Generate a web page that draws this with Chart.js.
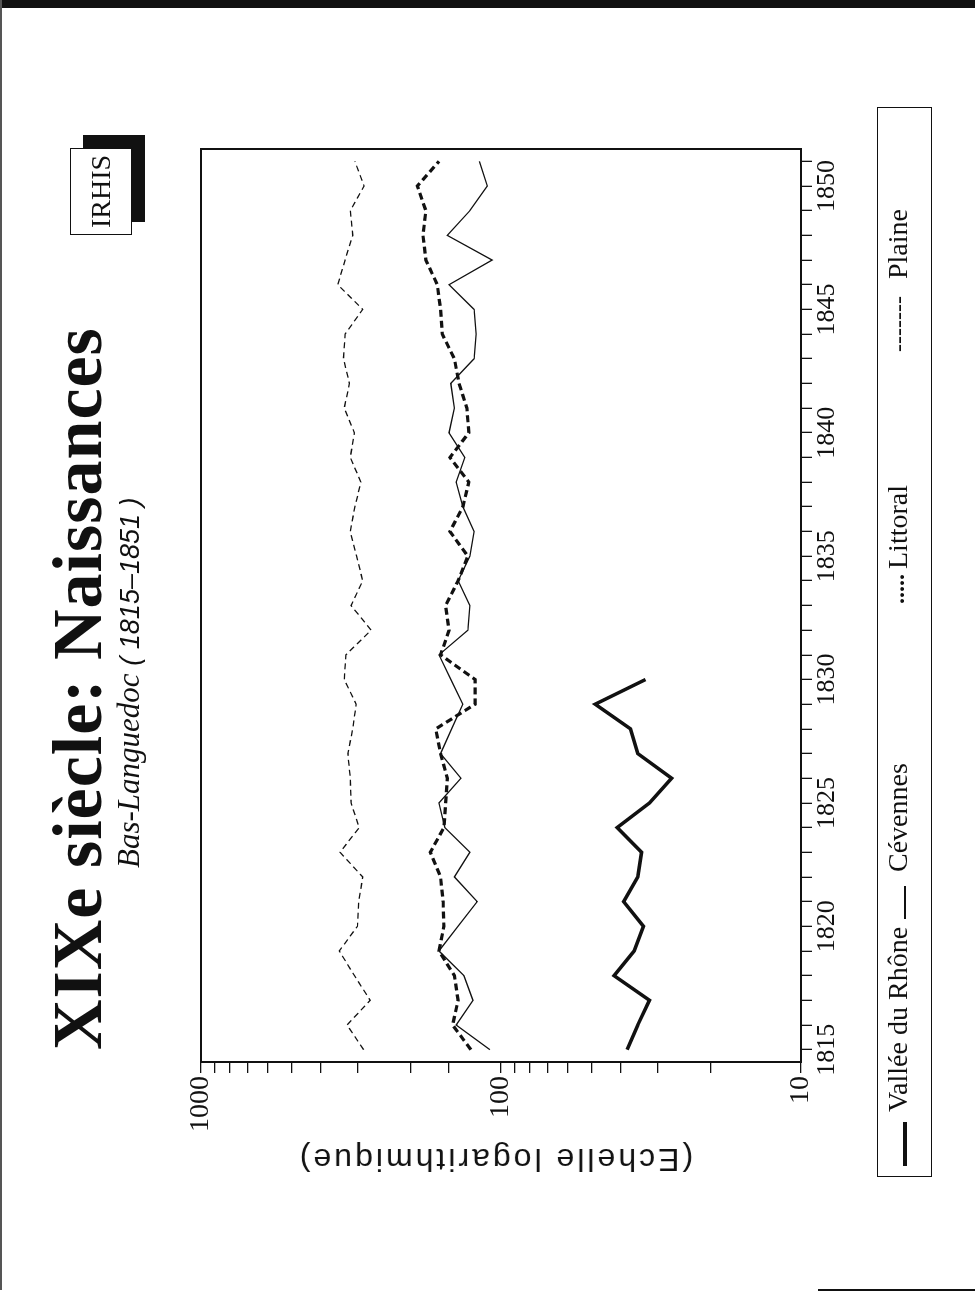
<!DOCTYPE html>
<html lang="fr">
<head>
<meta charset="utf-8">
<title>XIXe siècle : Naissances</title>
<script src="https://cdn.jsdelivr.net/npm/chart.js@4.4.1/dist/chart.umd.min.js"></script>
<style>
    html, body { margin: 0; padding: 0; background: #fff; }
    body { width: 975px; height: 1298px; position: relative; overflow: hidden; }
    .trait { position: absolute; background: #111; }
    #page {
        position: absolute; left: 0; top: 0;
        width: 1298px; height: 975px;
        transform-origin: 0 0;
        transform: translate(0, 1298px) rotate(-90deg);
        font-family: 'Liberation Serif', 'Times New Roman', serif;
        color: #111;
    }
    #graphique { position: absolute; left: 0; top: 0; }
    #titre { position: absolute; left: 248px; top: 43px; font: bold 70px/1 'Liberation Serif', serif; letter-spacing: 1px; white-space: nowrap; }
    #sousTitre { position: absolute; left: 430px; top: 113px; font: italic 31px/1 'Liberation Serif', serif; white-space: nowrap; }
    #sousTitre .dates { font-family: 'Liberation Sans', sans-serif; font-size: 27px; }
    #ombre { position: absolute; left: 1076px; top: 83px; width: 87px; height: 62px; background: #111; }
    #irhis { position: absolute; left: 1063px; top: 70px; width: 87px; height: 62px; box-sizing: border-box; border: 1.5px solid #111; background: #fff; text-align: center; font: 28px/60px 'Liberation Serif', serif; }
    #titreAxe { position: absolute; left: -112px; top: 475px; width: 500px; height: 40px; text-align: center; transform: rotate(-90deg); font: 32px/40px 'Liberation Sans', Arial, sans-serif; letter-spacing: 3px; white-space: nowrap; }
    #legende { position: absolute; left: 121px; top: 877px; width: 1070px; height: 55px; box-sizing: border-box; border: 1.5px solid #111; }
    .item { position: absolute; top: 6px; font: 28px/1 'Liberation Serif', serif; white-space: nowrap; }
    .ligne { position: absolute; background: #111; }
</style>
</head>
<body>
<!-- bords de la feuille -->
<div class="trait" style="left:0;top:0;width:975px;height:8px"></div>
<div class="trait" style="left:0;top:0;width:2px;height:1290px;background:#555"></div>
<div class="trait" style="left:818px;top:1289px;width:157px;height:2px"></div>

<div id="page">
    <canvas id="graphique" width="1298" height="975"></canvas>
    <div id="titre">XIXe siècle: Naissances</div>
    <div id="sousTitre">Bas-Languedoc <span class="dates">( 1815–1851 )</span></div>
    <div id="ombre"></div>
    <div id="irhis">IRHIS</div>
    <div id="titreAxe">(Echelle logarithmique)</div>
    <div id="legende">
        <div class="ligne" style="left:10px;top:25px;width:44px;height:4px"></div>
        <div class="item" style="left:64px">Vallée du Rhône</div>
        <div class="ligne" style="left:257px;top:26px;width:33px;height:1.5px"></div>
        <div class="item" style="left:304px">Cévennes</div>
        <div class="item" style="left:572px;font-weight:bold;font-size:24px;top:6px">.....</div>
        <div class="item" style="left:607px">Littoral</div>
        <div class="item" style="left:824px;font-size:24px;top:8px">-------</div>
        <div class="item" style="left:897px">Plaine</div>
    </div>
</div>

<script>
// Données (naissances, échelle log)
const annees = [1815, 1816, 1817, 1818, 1819, 1820, 1821, 1822, 1823, 1824,
    1825, 1826, 1827, 1828, 1829, 1830, 1831, 1832, 1833, 1834,
    1835, 1836, 1837, 1838, 1839, 1840, 1841, 1842, 1843, 1844,
    1845, 1846, 1847, 1848, 1849, 1850, 1851];
const anneesAffichees = [1815, 1820, 1825, 1830, 1835, 1840, 1845, 1850];
const puissancesDix = [10, 100, 1000];

// Vallée du Rhône : 1815-1830 seulement
const valleeRhone = [38, 35, 32, 42, 36, 33.5, 39, 35, 34, 41, 32, 27, 35, 37, 48.5, 33];
const cevennes = [109, 141, 124, 133, 161, 139, 120, 143, 127, 154,
    161, 136, 159, 146, 134, 147, 161, 129, 127, 139,
    127, 123, 134, 141, 132, 149, 143, 147, 123, 121,
    123, 149, 107, 151, 127, 111, 118];
const littoral = [126, 145, 139, 143, 161, 155, 156, 159, 172, 155,
    153, 151, 159, 165, 122, 122, 159, 149, 153, 139,
    129, 148, 134, 128, 148, 128, 130, 138, 143, 157,
    159, 163, 178, 182, 178, 190, 161];
const plaine = [287, 326, 273, 308, 346, 301, 298, 289, 344, 297,
    316, 318, 324, 312, 304, 333, 329, 271, 316, 289,
    303, 318, 307, 293, 318, 308, 333, 320, 335, 331,
    289, 350, 331, 312, 318, 286, 307];

// cadre complet autour de la zone du graphique
const cadre = {
    id: 'cadre',
    afterDraw(chart) {
        const { ctx, chartArea: a } = chart;
        ctx.save();
        ctx.strokeStyle = '#111';
        ctx.lineWidth = 2;
        ctx.strokeRect(a.left, a.top, a.right - a.left, a.bottom - a.top);
        ctx.restore();
    }
};

function inicialiserGraphique() {
    const ctx = document.getElementById('graphique').getContext('2d');
    Chart.defaults.font.family = "'Liberation Serif', 'Times New Roman', serif";
    Chart.defaults.color = '#111';

    new Chart(ctx, {
        type: 'line',
        data: {
            labels: annees,
            datasets: [{
                label: 'Vallée du Rhône',
                data: valleeRhone,
                borderColor: '#111',
                borderWidth: 3.5
            }, {
                label: 'Cévennes',
                data: cevennes,
                borderColor: '#111',
                borderWidth: 1.3
            }, {
                label: 'Littoral',
                data: littoral,
                borderColor: '#111',
                borderWidth: 3.2,
                borderDash: [7, 4]
            }, {
                label: 'Plaine',
                data: plaine,
                borderColor: '#111',
                borderWidth: 1.3,
                borderDash: [6, 4]
            }]
        },
        options: {
            responsive: false,
            animation: false,
            layout: { padding: { left: 119, right: 149, top: 201, bottom: 114 } },
            elements: { point: { radius: 0 }, line: { tension: 0 } },
            plugins: { legend: { display: false }, tooltip: { enabled: false } },
            scales: {
                x: {
                    type: 'category',
                    offset: true,
                    afterFit: scale => { scale.height = 60; },
                    grid: { drawOnChartArea: false, tickLength: 11, color: '#111', lineWidth: 1.3 },
                    border: { color: '#111', width: 2 },
                    ticks: {
                        autoSkip: false,
                        maxRotation: 0,
                        padding: 0,
                        font: { size: 26 },
                        callback: (v, i) => anneesAffichees.includes(annees[i]) ? annees[i] : ''
                    }
                },
                y: {
                    type: 'logarithmic',
                    min: 10,
                    max: 1000,
                    afterFit: scale => { scale.width = 117; },
                    grid: { drawOnChartArea: false, tickLength: 11, color: '#111', lineWidth: 1.3 },
                    border: { color: '#111', width: 2 },
                    ticks: {
                        autoSkip: false,
                        padding: 3,
                        font: { size: 28 },
                        callback: v => puissancesDix.includes(v) ? String(v) : ''
                    }
                }
            }
        },
        plugins: [cadre]
    });
}

document.addEventListener('DOMContentLoaded', inicialiserGraphique);
</script>
</body>
</html>
